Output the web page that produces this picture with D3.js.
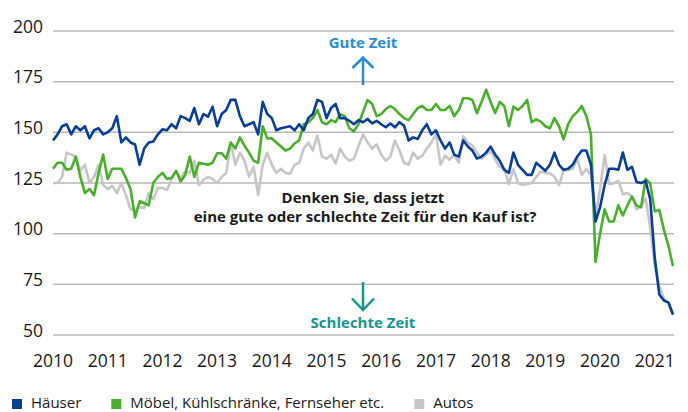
<!DOCTYPE html>
<html>
<head>
<meta charset="utf-8">
<script src="https://cdn.jsdelivr.net/npm/d3@7"></script>
<style>
  body { margin: 0; background: #fff; }
  text { font-family: "Open Sans", sans-serif; }
</style>
</head>
<body>
<div class="chart_container"></div>
<script>
// monthly index values, Jan 2010 onwards
var haeuser = [146,149,153,154,149,153,151,153,147,151,152,149,150,152,158,145,147.5,145,144,134,
  142,145,145.5,149,151.5,151,154,152,158,157,155.7,162,154,159,157.7,162.6,153,159,161,166,
  166,158,153,154,155,149,165,159,157,151,152,152.5,153,151,154,151,157,159,166,165,
  157,162,164,157,157,155.7,154,156,155,156.6,154.4,155.7,154,152.5,154.4,152.5,155,153.3,146,147.5,
  146.7,151,154,149,151,146,142,145,139,138,146,143,141,137,138,140,143,139,136,131.5,
  130,140,134,131.5,129,129,135,133,131,134,140,134,131.5,132,134,138,141,141,134,106,
  113,124,132,132,131.5,140,131.5,133,125.5,125,126,117,88,70,67,66,60];

var moebel = [132,135,135,131.5,132,138,128,120,122,119,130,139,127,132,132,132,127.5,122,108,116,
  115,114,125,128,130,127,127.5,131,125.7,129,138,128,135,134.5,134,135,139.7,139.7,137,145,
  142,147.5,143.5,140,136,135,153,147,147,145,143,141,142,144.5,146,154,155,157,161,155,
  154,156,155,159,158,152,150.5,154,160,166,164,158,159,161.5,163,161.5,159,157,156,159,
  162,163,161,161,164,161,161,163,158,161,166.8,166.8,166,159.4,165,171,165,159.5,165,163,
  153,162.7,161,163,166,155,156.4,155.3,153,152,157,153,146.5,154,158,160,163,158,149,86,
  100,112,106,106,114,109,114,118.3,114,113,127,124.8,111,111.7,102,94,84];

var autos = [125,125,128,140,139,138,131,134,125,128,134,124,122,123.6,120,125,119,112,111.5,113,
  112.6,120,117,122.5,122.5,121.6,127,130.7,127.4,130.7,130,136,124,126.6,128,127,125,128,130,145,
  134,140,136,128,133,119,134,140,134,130,132,130,129.5,134,135,142,145,141,148.5,138,
  137,139,134.5,142,138,136,137,143,149,145,142,144,139,136,138,146,141,135,134,140,
  137,138.5,142,145,149,134,138.5,136.5,138.8,135,148,145,143.5,140,137,138.8,141,136.5,133,132,
  124.5,132,125,124,124.5,125,128,130.6,130,129.8,128.1,124,131,131.4,132,137,129,132,129,108,
  122,138.8,124.5,124.8,126,119.5,120,118.3,112,113.5,117.4,103,84,74,68,66,61];

var yearLabels = ["2010","2011","2012","2013","2014","2015","2016","2017","2018","2019","2020","2021"];
var yTicks = [50,75,100,125,150,175,200];
var seriesNames = ["Häuser", "Möbel, Kühlschränke, Fernseher etc.", "Autos"];
var seriesColors = ["#083f96", "#4aaf2c", "#c6c6c6"];

var svg = d3.select(".chart_container").append("svg")
    .attr("width", 688)
    .attr("height", 412);

var x = d3.scaleLinear().domain([0, haeuser.length - 1]).range([53, 673]);
var y = d3.scaleLinear().domain([50, 200]).range([335, 31]);

// gridlines + y labels
var grid = svg.append("g").attr("id", "grid");
grid.selectAll("line")
    .data(yTicks)
    .enter().append("line")
      .attr("x1", 53)
      .attr("x2", 674)
      .attr("y1", d => y(d))
      .attr("y2", d => y(d))
      .style("stroke", "#b9b9b9")
      .style("stroke-width", "1.5px");

grid.selectAll("text")
    .data(yTicks)
    .enter().append("text")
      .attr("x", 43)
      .attr("y", d => y(d) + 1.5)
      .attr("text-anchor", "end")
      .style("font-size", "17.5px")
      .style("fill", "#1a1a1a")
      .text(d => d);

// x labels, one per January
svg.append("g").attr("id", "xlabels")
  .selectAll("text")
    .data(yearLabels)
    .enter().append("text")
      .attr("x", (d, i) => x(i * 12))
      .attr("y", 366.5)
      .attr("text-anchor", "middle")
      .style("font-size", "17.5px")
      .style("fill", "#1a1a1a")
      .text(d => d);

// question + arrows
var notes = svg.append("g").attr("id", "notes");
notes.append("text")
    .attr("x", 363).attr("y", 48)
    .attr("text-anchor", "middle")
    .style("font-size", "15px").style("font-weight", "700")
    .style("fill", "#2a8bd6")
    .text("Gute Zeit");
notes.append("path")
    .attr("d", "M363,85V58M352.5,68L363,57.5L373.5,68")
    .style("fill", "none").style("stroke", "#2a8bd6").style("stroke-width", "2.5px");

notes.append("text")
    .attr("x", 363).attr("y", 328)
    .attr("text-anchor", "middle")
    .style("font-size", "15px").style("font-weight", "700")
    .style("fill", "#17968e")
    .text("Schlechte Zeit");
notes.append("path")
    .attr("d", "M363,282V310M352,298.5L363,310L374,298.5")
    .style("fill", "none").style("stroke", "#17968e").style("stroke-width", "2.5px");

notes.append("text")
    .attr("x", 363).attr("y", 203)
    .attr("text-anchor", "middle")
    .style("font-size", "15px").style("font-weight", "700")
    .style("fill", "#1a1a1a")
    .text("Denken Sie, dass jetzt");
notes.append("text")
    .attr("x", 365).attr("y", 222)
    .attr("text-anchor", "middle")
    .style("font-size", "15px").style("font-weight", "700")
    .style("fill", "#1a1a1a")
    .text("eine gute oder schlechte Zeit für den Kauf ist?");

// lines
var line = d3.line()
    .x((d, i) => x(i))
    .y(d => y(d));

var series = [autos, moebel, haeuser];
var colors = [seriesColors[2], seriesColors[1], seriesColors[0]];

svg.append("g").attr("id", "lines")
  .selectAll("path")
    .data(series)
    .enter().append("path")
      .attr("d", line)
      .style("fill", "none")
      .style("stroke", (d, i) => colors[i])
      .style("stroke-width", "2.6px")
      .style("stroke-linejoin", "round");

// legend
var legend = svg.append("g").attr("id", "legend");
var lx = 12;
seriesNames.forEach(function(name, i) {
    legend.append("rect")
        .attr("x", lx).attr("y", 399)
        .attr("width", 10).attr("height", 10)
        .style("fill", seriesColors[i]);
    var t = legend.append("text")
        .attr("x", lx + 19).attr("y", 408)
        .style("font-size", "15px")
        .style("fill", "#1a1a1a")
        .text(name);
    lx = lx + 19 + t.node().getComputedTextLength() + 30;
});
</script>
</body>
</html>
